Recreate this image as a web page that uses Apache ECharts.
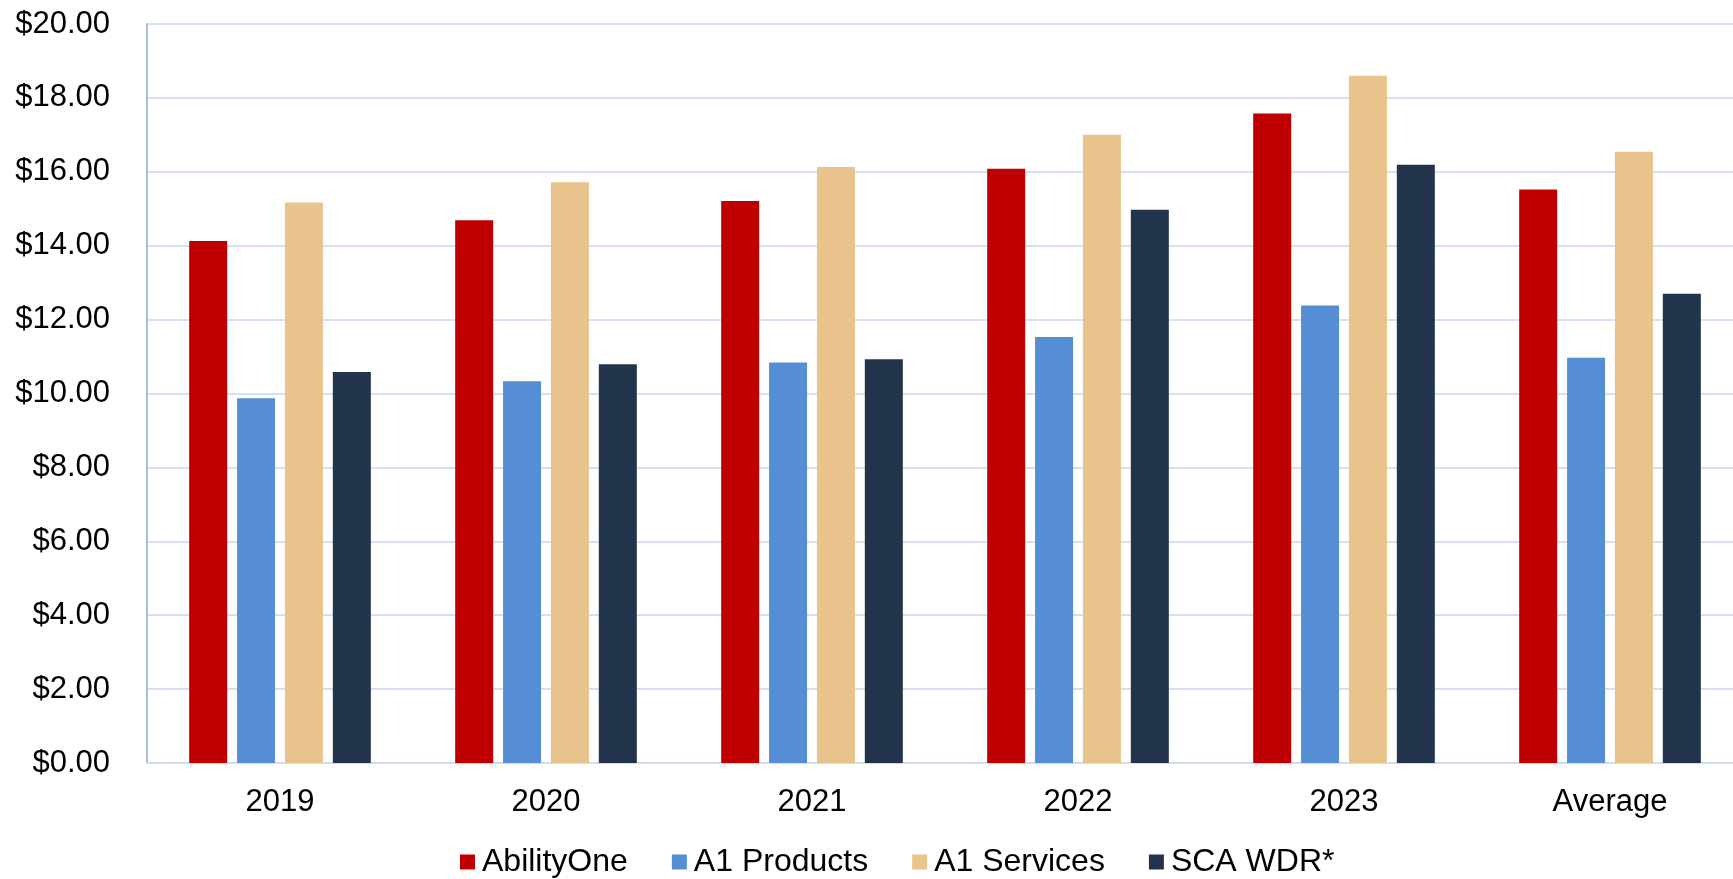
<!DOCTYPE html>
<html>
<head>
<meta charset="utf-8">
<script src="https://cdn.jsdelivr.net/npm/echarts@6/dist/echarts.min.js"></script>
<style>
html,body{margin:0;padding:0;background:#fff;}
#chart{width:1733px;height:879px;}
</style>
</head>
<body>
<div id="chart"></div>
<script>
const categories = ['2019', '2020', '2021', '2022', '2023', 'Average'];
const abilityOne = [14.13, 14.69, 15.21, 16.08, 17.58, 15.52];
const a1Products = [9.87, 10.33, 10.84, 11.53, 12.38, 10.97];
const a1Services = [15.17, 15.72, 16.13, 17.00, 18.60, 16.54];
const scaWdr = [10.58, 10.79, 10.93, 14.97, 16.19, 12.70];
const seriesNames = ['AbilityOne', 'A1 Products', 'A1 Services', 'SCA WDR*'];
const seriesColors = ['#C00000', '#558ED5', '#E8C48C', '#21344C'];

const font = '"Liberation Sans", Arial, sans-serif';
const chart = echarts.init(document.getElementById('chart'), null, {renderer: 'canvas'});
const allData = [abilityOne, a1Products, a1Services, scaWdr];

chart.setOption({
  animation: false,
  backgroundColor: '#ffffff',
  color: seriesColors,
  grid: {left: 147, width: 1596, top: 24, bottom: 116, containLabel: false, outerBoundsMode: 'none'},
  legend: {
    left: 455, top: 841,
    itemWidth: 15, itemHeight: 15, itemGap: 44,
    icon: 'rect',
    textStyle: {fontFamily: font, fontSize: 32, color: '#000', padding: [0, 0, 0, 2]},
    data: seriesNames
  },
  xAxis: {
    type: 'category',
    data: categories,
    axisTick: {show: false},
    axisLine: {show: true, lineStyle: {color: '#D0DDF0', width: 2}},
    axisLabel: {fontFamily: font, fontSize: 31, color: '#000', margin: 24}
  },
  yAxis: {
    type: 'value',
    min: 0, max: 20, interval: 2,
    axisLine: {show: true, lineStyle: {color: '#A6BFE0', width: 2}},
    axisTick: {show: false},
    splitLine: {lineStyle: {color: '#D5E0F2', width: 2}},
    axisLabel: {
      fontFamily: font, fontSize: 31, color: '#000', margin: 37,
      formatter: v => '$' + v.toFixed(2)
    }
  },
  series: seriesNames.map((name, i) => ({
    name: name,
    type: 'bar',
    data: allData[i],
    barWidth: 38,
    barGap: '26%',
    itemStyle: {color: seriesColors[i]}
  }))
});
</script>
</body>
</html>
